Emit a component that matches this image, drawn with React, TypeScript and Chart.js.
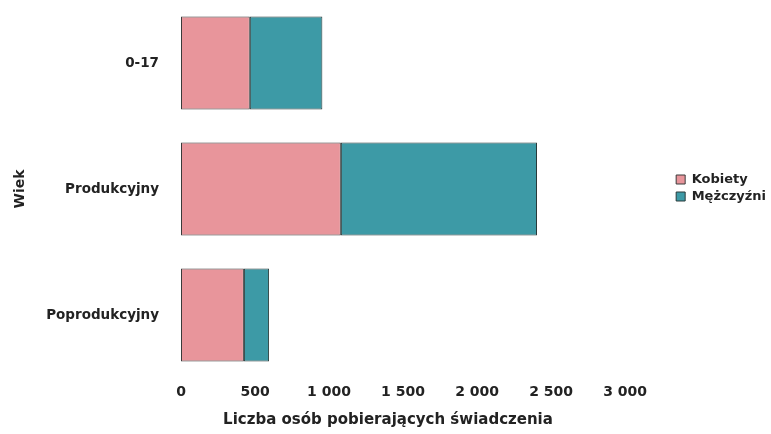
import React, { useEffect, useRef } from "react";
import { Chart, registerables } from "chart.js";

Chart.register(...registerables);

const categories = ["0-17", "Produkcyjny", "Poprodukcyjny"];
const kobiety = [465, 1080, 425];
const mezczyzni = [490, 1325, 170];
const tickValues = [0, 500, 1000, 1500, 2000, 2500, 3000];
const tickLabels = ["0", "500", "1 000", "1 500", "2 000", "2 500", "3 000"];

const FONT = "'DejaVu Sans', Verdana, sans-serif";

export default function App() {
  const ref = useRef<HTMLCanvasElement | null>(null);
  useEffect(() => {
    if (!ref.current) return;
    const chart = new Chart(ref.current, {
      type: "bar",
      data: {
        labels: categories,
        datasets: [
          {
            label: "Kobiety",
            data: kobiety,
            backgroundColor: "#e8959b",
            borderColor: "#3a3a3a",
            borderWidth: 1,
            borderSkipped: false,
          },
          {
            label: "Mężczyźni",
            data: mezczyzni,
            backgroundColor: "#3d9aa6",
            borderColor: "#2a3a3a",
            borderWidth: 1,
            borderSkipped: false,
          },
        ],
      },
      options: {
        indexAxis: "y",
        animation: false,
        responsive: true,
        maintainAspectRatio: false,
        datasets: { bar: { categoryPercentage: 1, barPercentage: 0.74 } },
        layout: { padding: { left: 0, right: -5, top: 0, bottom: 0 } },
        plugins: {
          legend: {
            position: "right",
            align: "start",
            title: {
              display: true,
              text: " ",
              font: { family: FONT, size: 10 },
              padding: { top: 157, bottom: 0 },
            },
            labels: {
              boxWidth: 9,
              boxHeight: 9,
              padding: 4,
              color: "#222",
              font: { family: FONT, size: 13, weight: "bold" },
            },
          },
          title: {
            display: true,
            position: "bottom",
            text: "Liczba osób pobierających świadczenia",
            color: "#222",
            font: { family: FONT, size: 15, weight: "bold" },
            padding: { top: 0, bottom: 5 },
          },
          tooltip: { enabled: false },
        },
        scales: {
          x: {
            stacked: true,
            min: 0,
            max: 3318,
            border: { display: false },
            grid: { display: false, drawTicks: false },
            afterBuildTicks: (s: any) => {
              s.ticks = tickValues.map((v) => ({ value: v }));
            },
            afterFit: (s: any) => {
              s.height = 33;
            },
            ticks: {
              padding: 6,
              color: "#222",
              font: { family: FONT, size: 14, weight: "bold" },
              callback: (v: any) => {
                const i = tickValues.indexOf(Number(v));
                return i >= 0 ? tickLabels[i] : "";
              },
            },
          },
          y: {
            stacked: true,
            border: { display: false },
            grid: { display: false, drawTicks: false },
            afterFit: (s: any) => {
              s.width = 181;
              s.paddingTop = 0;
              s.paddingBottom = 0;
            },
            ticks: {
              padding: 22,
              color: "#222",
              font: { family: FONT, size: 13.5, weight: "bold" },
            },
            title: {
              display: true,
              text: "Wiek",
              color: "#222",
              font: { family: FONT, size: 14, weight: "bold" },
              padding: { top: 12, bottom: 0 },
            },
          },
        },
      },
    });
    return () => chart.destroy();
  }, []);
  return (
    <div style={{ position: "absolute", left: 0, top: 0, width: 771, height: 434, background: "#fff" }}>
      <canvas ref={ref} />
    </div>
  );
}
